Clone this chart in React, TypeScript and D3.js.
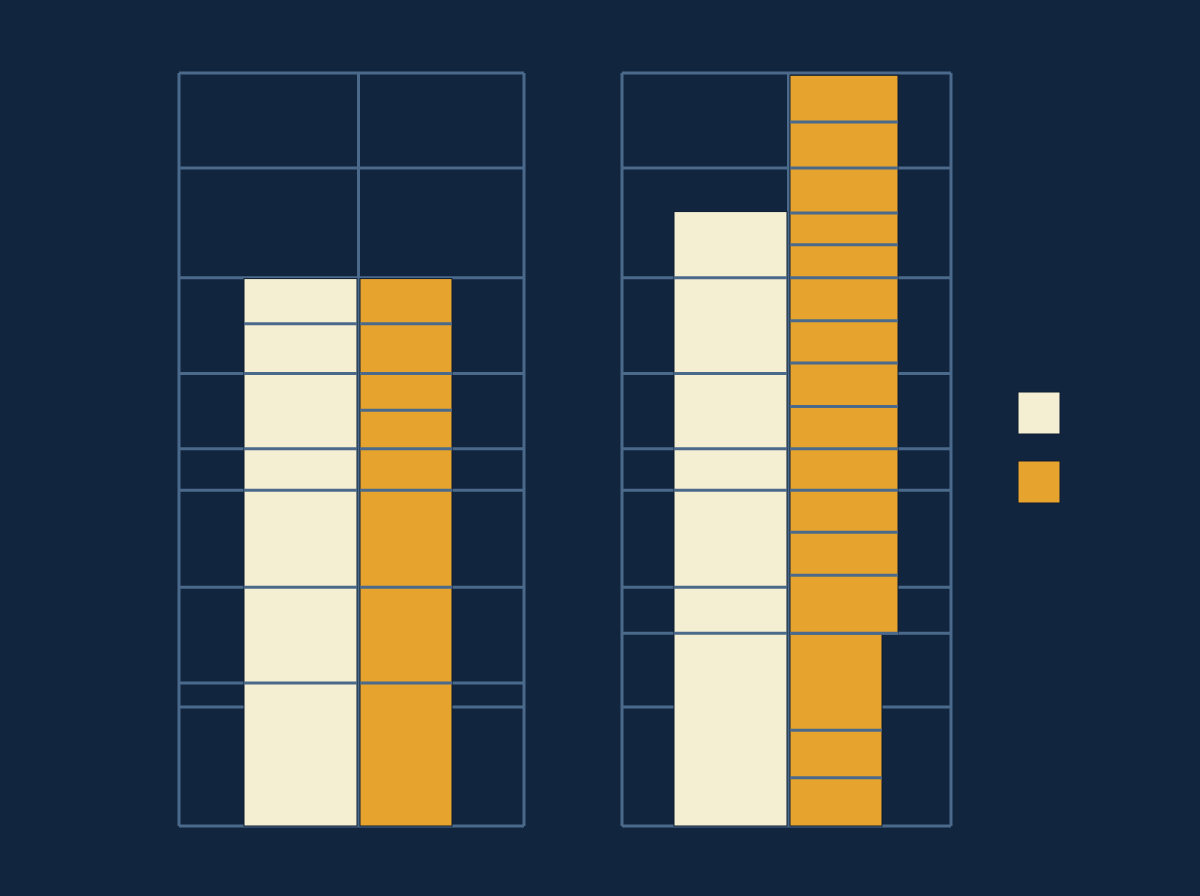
import * as d3 from 'd3';

// value scale: 0 at the floor, 100 at the top rule of each panel
const leftGrid = [0, 15.8, 19.0, 31.7, 44.6, 50.1, 60.1, 72.8, 87.4, 100];
const rightGrid = [0, 15.8, 25.6, 31.7, 44.6, 50.1, 60.1, 72.8, 87.4, 100];

// stacked segment heights, bottom to top
const leftCream = [19.0, 12.7, 12.9, 5.5, 10.0, 6.6, 6.0];
const leftOrange = [19.0, 12.7, 12.9, 5.5, 5.1, 4.9, 6.6, 6.0];
const rightCream = [25.6, 6.1, 12.9, 5.5, 10.0, 12.7, 8.8];
const rightOrangeBase = [6.4, 6.3, 12.9];
const rightOrangeUpper = [7.7, 5.7, 5.6, 5.5, 5.6, 5.8, 5.6, 5.7, 4.4, 4.2, 6.0, 6.1, 6.2];

const legendKeys = ['cream', 'orange'];

const W = 1200;
const H = 896;
const TOP = 73;
const BOTTOM = 826;
const BG = '#12253f';
const GRID = '#4b6a8b';
const CREAM = '#f4eed3';
const ORANGE = '#e6a42e';

const y = d3.scaleLinear().domain([0, 100]).range([BOTTOM, TOP]);

type Seg = { y0: number; y1: number };

function stack(values: number[], base = 0): Seg[] {
  const ends = Array.from(d3.cumsum(values), (v) => v + base);
  return values.map((_, i) => ({ y0: i === 0 ? base : ends[i - 1], y1: ends[i] }));
}

function Bar({ segs, x0, x1, fill }: { segs: Seg[]; x0: number; x1: number; fill: string }) {
  const top = segs[segs.length - 1].y1;
  const bottom = segs[0].y0;
  return (
    <g>
      <rect x={x0} y={y(top)} width={x1 - x0} height={y(bottom) - y(top)} fill={fill} stroke="#0e1c33" strokeWidth={1} />
      {segs.slice(0, -1).map((s, i) => (
        <line key={i} x1={x0} x2={x1} y1={y(s.y1)} y2={y(s.y1)} stroke={GRID} strokeWidth={3} />
      ))}
    </g>
  );
}

function Panel({ x0, x1, cx, grid, children }: any) {
  return (
    <g>
      {grid.map((v: number) => (
        <line key={v} x1={x0} x2={x1} y1={y(v)} y2={y(v)} stroke={GRID} strokeWidth={3} />
      ))}
      <line x1={x0} x2={x0} y1={y(0)} y2={y(100)} stroke={GRID} strokeWidth={3} />
      <line x1={x1} x2={x1} y1={y(0)} y2={y(100)} stroke={GRID} strokeWidth={3} />
      <line x1={cx} x2={cx} y1={y(0)} y2={y(100)} stroke={GRID} strokeWidth={3} />
      {children}
    </g>
  );
}

export default function App() {
  const lc = stack(leftCream);
  const lo = stack(leftOrange);
  const rc = stack(rightCream);
  const rob = stack(rightOrangeBase);
  const rou = stack(rightOrangeUpper, d3.sum(rightOrangeBase));
  const legendY = d3.scaleBand<string>().domain(legendKeys).range([392, 503]).paddingInner(0.391);

  return (
    <svg width={W} height={H} style={{ position: 'absolute', left: 0, top: 0, background: BG }}>
      <rect width={W} height={H} fill={BG} />
      <Panel x0={179} x1={524} cx={358.5} grid={leftGrid}>
        <Bar segs={lc} x0={244} x1={357} fill={CREAM} />
        <Bar segs={lo} x0={360} x1={452} fill={ORANGE} />
      </Panel>
      <Panel x0={622} x1={951} cx={788.5} grid={rightGrid}>
        <Bar segs={rc} x0={674} x1={787} fill={CREAM} />
        <Bar segs={rob} x0={790} x1={882} fill={ORANGE} />
        <line x1={790} x2={882} y1={y(rob[rob.length - 1].y1)} y2={y(rob[rob.length - 1].y1)} stroke={GRID} strokeWidth={3} />
        <Bar segs={rou} x0={790} x1={898} fill={ORANGE} />
        <line x1={790} x2={898} y1={y(rou[0].y0)} y2={y(rou[0].y0)} stroke={GRID} strokeWidth={3} />
      </Panel>
      {legendKeys.map((k) => (
        <rect
          key={k}
          x={1018}
          y={legendY(k)}
          width={42}
          height={legendY.bandwidth()}
          fill={k === 'cream' ? CREAM : ORANGE}
          stroke="#0e1c33"
          strokeWidth={1}
        />
      ))}
    </svg>
  );
}
